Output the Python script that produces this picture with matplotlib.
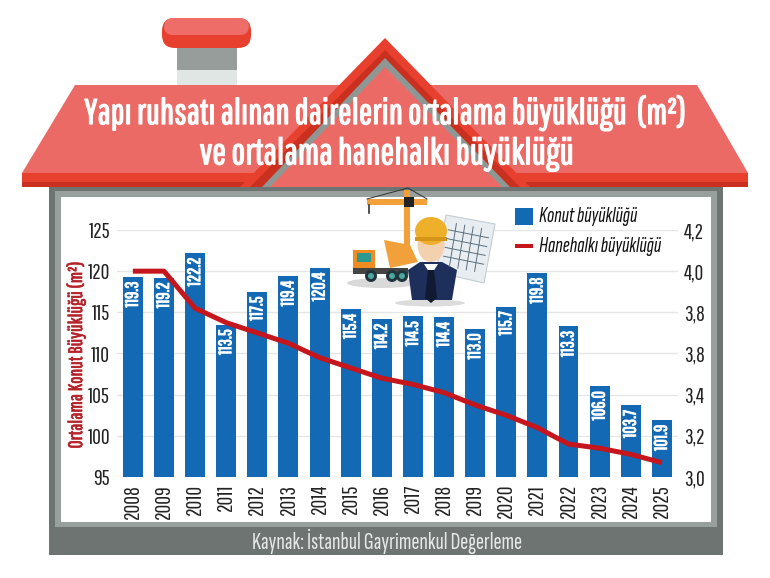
import matplotlib
matplotlib.use("Agg")
import matplotlib.pyplot as plt
import matplotlib.patheffects as pe
from matplotlib.patches import Polygon, Rectangle, FancyBboxPatch, Circle, Ellipse

years = list(range(2008, 2026))
konut = [119.3, 119.2, 122.2, 113.5, 117.5, 119.4, 120.4, 115.4, 114.2, 114.5,
         114.4, 113.0, 115.7, 119.8, 113.3, 106.0, 103.7, 101.9]
hane = [4.0, 4.0, 3.82, 3.75, 3.70, 3.65, 3.58, 3.53, 3.48, 3.45,
        3.41, 3.35, 3.30, 3.24, 3.16, 3.14, 3.11, 3.07]
left_ticks = [95, 100, 105, 110, 115, 120, 125]
right_ticks = [3.0, 3.2, 3.4, 3.6, 3.8, 4.0, 4.2]
right_labels = ["3,0", "3,2", "3,4", "3,8", "3,8", "4,0", "4,2"]

# narrow faces first, the rest only as a way out
NARROW = ["Pathway Gothic One", "Liberation Sans", "DejaVu Sans"]
SLANT = ["Sofia Sans Extra Condensed", "Liberation Sans", "DejaVu Sans"]
plt.rcParams["font.family"] = NARROW

W, H = 770, 578
BLUE = "#1369b4"
RED = "#c4161c"
ROOF = "#ec6a66"
DARKRED = "#c9301f"
LIGHTRED = "#e8402f"
fig = plt.figure(figsize=(W / 100, H / 100), dpi=100)
renderer = fig.canvas.get_renderer()


def fit(t, width):
    # font size from the pixel length the text has in the picture
    e = t.get_window_extent(renderer)
    t.set_fontsize(t.get_fontsize() * width / max(e.width, e.height))
    return t


def heavy(t, lw=0.7):
    t.set_path_effects([pe.withStroke(linewidth=lw, foreground=t.get_color())])
    return t


# background drawing in pixel coordinates
bg = fig.add_axes([0, 0, 1, 1], zorder=0)
bg.set_xlim(0, W)
bg.set_ylim(H, 0)
bg.axis("off")


def poly(pts, color, z=1):
    bg.add_patch(Polygon(pts, closed=True, fc=color, ec="none", zorder=z))


def rect(x0, y0, x1, y1, color, z=1):
    bg.add_patch(Rectangle((x0, y0), x1 - x0, y1 - y0, fc=color, ec="none", zorder=z))


# chimney
rect(177, 70, 237, 90, "#dfe6e3")
rect(177, 48, 237, 70, "#969d9b")
bg.add_patch(FancyBboxPatch((162, 18), 89, 30, boxstyle="round,pad=0,rounding_size=13",
                            fc=LIGHTRED, ec="none", zorder=2))
bg.add_patch(FancyBboxPatch((164, 18), 85, 17, boxstyle="round,pad=0,rounding_size=9",
                            fc="#ee6d68", ec="none", zorder=3))

# walls
rect(49, 180, 723, 555, "#6d7472")
rect(55, 191, 717, 527, "#98a09e")
rect(61, 197, 711, 522, "white")

# roof
poly([(75, 85), (697, 85), (748, 173), (22, 173)], ROOF, 4)
rect(22, 173, 748, 182, LIGHTRED, 5)
rect(22, 182, 748, 187, DARKRED, 5)

# gable
poly([(385, 38), (530, 187), (240, 187)], LIGHTRED, 6)
poly([(385, 50), (520, 187), (250, 187)], DARKRED, 6)
poly([(385, 58), (510, 187), (262, 187)], "#8f9795", 6)
poly([(385, 67), (502, 187), (270, 187)], ROOF, 7)

# title
t1 = bg.text(386, 113, "Yapı ruhsatı alınan dairelerin ortalama büyüklüğü  (m²)", color="white",
             fontsize=26, ha="center", va="center", zorder=10)
t2 = bg.text(386, 154, "ve ortalama hanehalkı büyüklüğü", color="white",
             fontsize=26, ha="center", va="center", zorder=10)
heavy(fit(t1, 600), 0.9)
heavy(fit(t2, 373), 0.9)

# source line
fit(bg.text(387, 541, "Kaynak: İstanbul Gayrimenkul Değerleme", color="#e6e9e8",
            fontsize=14, family=SLANT, ha="center", va="center", zorder=10), 270)

# chart
ax_l, ax_r, ax_t, ax_b = 117, 678, 230, 477
ax = fig.add_axes([ax_l / W, 1 - ax_b / H, (ax_r - ax_l) / W, (ax_b - ax_t) / H], zorder=2)
ax.patch.set_alpha(0)
ax.bar(years, konut, width=0.64, color=BLUE, zorder=3)
ax.set_xlim(2007.49, 2025.52)
ax.set_ylim(95, 125)
ax.set_yticks(left_ticks)
ax.set_xticks(years)
ax.set_xticklabels(years, rotation=90)
tick_size = 15.5
ax.tick_params(axis="both", length=0, labelsize=tick_size, labelcolor="#222222")
ax.tick_params(axis="x", pad=5)
ax.tick_params(axis="y", pad=5)
ax.grid(axis="y", color="#e3e6e5", linewidth=1, zorder=0)
for s in ax.spines.values():
    s.set_visible(False)
yl = bg.text(76, 355, "Ortalama Konut Büyüklüğü (m²)", color="#b5232a", fontsize=13,
             rotation=90, ha="center", va="center", zorder=10)
heavy(fit(yl, 185), 0.5)

for y, v in zip(years, konut):
    heavy(ax.text(y, v - 0.6, f"{v:.1f}", rotation=90, color="white", fontsize=13,
                  ha="center", va="top", zorder=5), 0.7)

ax2 = ax.twinx()
ax2.patch.set_alpha(0)
ax2.plot(years, hane, color=RED, linewidth=3.6, solid_capstyle="butt", zorder=6)
ax2.set_ylim(3.0, 4.2)
ax2.set_yticks(right_ticks)
ax2.set_yticklabels(right_labels)
ax2.tick_params(axis="y", length=0, labelsize=tick_size, labelcolor="#222222", pad=4)
for s in ax2.spines.values():
    s.set_visible(False)

# illustration on top of the chart
top = fig.add_axes([0, 0, 1, 1], zorder=3)
top.set_xlim(0, W)
top.set_ylim(H, 0)
top.axis("off")
top.patch.set_alpha(0)
ORANGE = "#f2a03a"
# crane
top.add_patch(Rectangle((404, 190), 6, 60, fc=ORANGE, ec="none"))
top.add_patch(Rectangle((367, 199), 60, 6, fc=ORANGE, ec="none"))
top.add_patch(Rectangle((404, 197), 10, 10, fc="#222222", ec="none"))
top.plot([367, 408, 427], [199, 188, 199], color="#333333", lw=0.7)
top.plot([369, 369], [205, 213], color="#333333", lw=1.2)
# drawing sheet
top.add_patch(Polygon([(446, 215), (495, 224), (484, 283), (436, 272)], fc="#e7edf1", ec="#c4cdd3", lw=0.8))
for t in [0.2, 0.4, 0.6, 0.8]:
    top.plot([450 + 42 * t - 2, 441 + 42 * t], [222 + 8 * t, 265 + 8 * t], color="#5c6f7d", lw=0.7)
    top.plot([450 - 8 * t, 490 - 8 * t], [221 + 44 * t, 229 + 44 * t], color="#5c6f7d", lw=0.7)
# truck
top.add_patch(Ellipse((382, 283), 70, 10, fc="#d9d9d9", ec="none"))
top.add_patch(Polygon([(384, 240), (410, 245), (418, 262), (390, 268)], fc=ORANGE, ec="none"))
top.add_patch(Rectangle((353, 250), 22, 22, fc="#ee8c22", ec="none"))
top.add_patch(Rectangle((357, 253), 14, 9, fc="#2a9a90", ec="none"))
top.add_patch(Rectangle((353, 268), 55, 6, fc="#444444", ec="none"))
for cx in [371, 392, 402]:
    top.add_patch(Circle((cx, 276), 6, fc="#20343c", ec="none"))
    top.add_patch(Circle((cx, 276), 3, fc="#49a6a0", ec="none"))
# man
top.add_patch(Ellipse((430, 303), 70, 7, fc="#dcdcdc", ec="none"))
top.add_patch(Polygon([(408, 270), (420, 262), (442, 262), (457, 270), (452, 300), (412, 300)],
                      fc="#1e2f5c", ec="none"))
top.add_patch(Polygon([(424, 264), (438, 264), (431, 275)], fc="white", ec="none"))
top.add_patch(Polygon([(428, 270), (434, 270), (437, 298), (431, 303), (425, 298)], fc="#111a33", ec="none"))
top.add_patch(Ellipse((431, 245), 27, 34, fc="#f3d0ae", ec="none"))
top.add_patch(Ellipse((431, 231), 32, 28, fc="#eeb02b", ec="none"))
top.add_patch(Rectangle((415, 237), 32, 4, fc="#d59516", ec="none"))

# legend
top.add_patch(Rectangle((515, 208), 18, 17, fc=BLUE, ec="none"))
top.add_patch(Rectangle((515, 244), 18, 3.5, fc=RED, ec="none"))
fit(top.text(539, 216, "Konut büyüklüğü", fontsize=15, family=SLANT, style="italic",
             color="#111111", va="center"), 98)
fit(top.text(539, 246, "Hanehalkı büyüklüğü", fontsize=15, family=SLANT, style="italic",
             color="#111111", va="center"), 122)

fig.savefig("out.png", dpi=100)
